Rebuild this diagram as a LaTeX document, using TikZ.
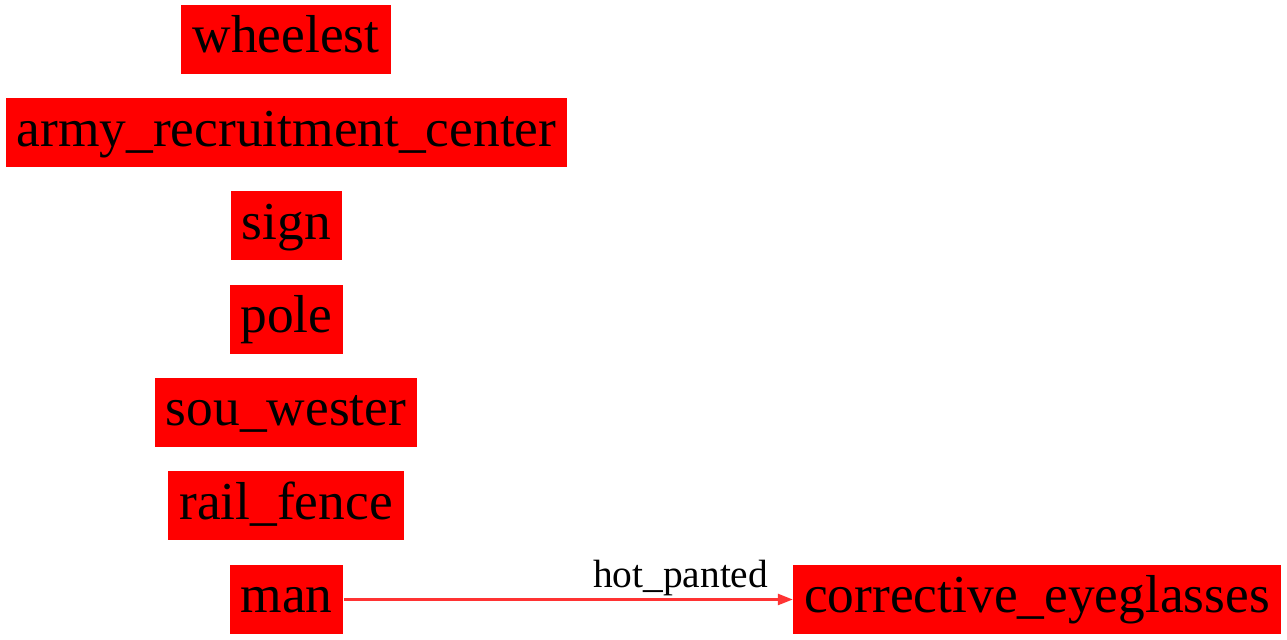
\documentclass[tikz,border=0pt]{standalone}
\usepackage{fontspec}
\setmainfont{Liberation Serif}
\usepackage{tikz}
\usetikzlibrary{
    positioning,
    arrows.meta
}
\colorlet{edgered}{red!80!white}
\tikzset{
  object/.style = {
      rectangle,
      fill=red,
      draw=none,
      minimum height=34.5pt,
      text height=24pt,
      text depth=10.5pt,
      inner xsep=5.5pt,
      inner ysep=0pt,
      font=\fontsize{26.7}{30}\selectfont
  },
  relation/.style = {
      color=edgered,
      line width=1.2pt,
      -{Triangle[length=7.5pt,width=5.5pt]}
  },
  rellabel/.style = {
      text=black,
      font=\fontsize{19.7}{22}\selectfont,
      inner sep=1pt
  }
}
\begin{document}
\begin{tikzpicture}[x=0.5pt,y=-0.5pt]
    \useasboundingbox (0,0) rectangle (1287,640);
    % Nodes
    \node[object, minimum width=105pt] (wheelest) at (286,39.5) {wheelest};
    \node[object] (army) at (286.5,133) {army\_recruitment\_center};
    \node[object] (sign) at (286.5,226) {sign};
    \node[object] (pole) at (286.5,319.5) {pole};
    \node[object] (souwester) at (286,412.5) {sou\_wester};
    \node[object] (railfence) at (286,506) {rail\_fence};
    \node[object] (man) at (286.5,599.5) {man};
    \node[object] (eyeglasses) at (1037,599.5) {corrective\_eyeglasses};
    % Edges
    \draw[relation] (man) -- node[rellabel, pos=0.75, above] {hot\_panted} (eyeglasses);
\end{tikzpicture}
\end{document}
